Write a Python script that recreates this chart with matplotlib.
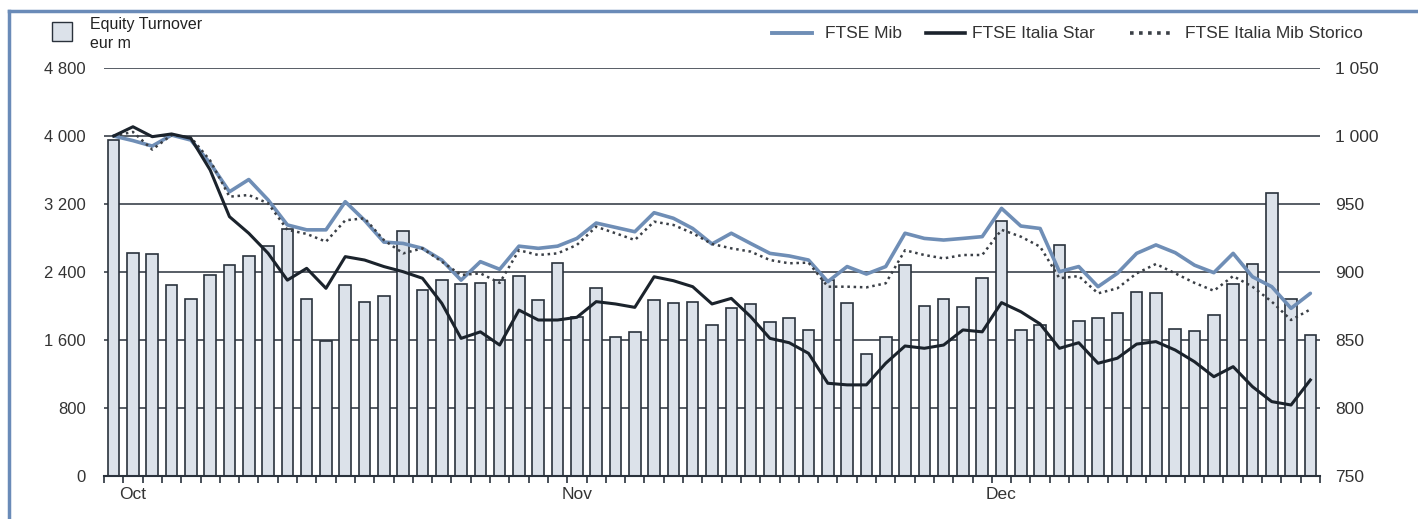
import numpy as np
import matplotlib
matplotlib.use("Agg")
import matplotlib.pyplot as plt
from matplotlib.lines import Line2D
from matplotlib.patches import Rectangle

# daily equity turnover, eur m (one bar per trading day, Oct-Dec)
turnover = [3953, 2627, 2615, 2242, 2077, 2360, 2478, 2584, 2705, 2901,
            2077, 1592, 2242, 2046, 2121, 2881, 2184, 2301, 2258, 2274,
            2301, 2348, 2066, 2509, 1870, 2211, 1635, 1693, 2070, 2035,
            2050, 1780, 1975, 2022, 1811, 1858, 1721, 2305, 2035, 1435,
            1635, 2481, 2003, 2082, 1987, 2333, 3003, 1721, 1780, 2713,
            1823, 1855, 1917, 2168, 2152, 1733, 1705, 1897, 2258, 2493,
            3328, 2077, 1658]

ftse_mib = [1000, 996.6, 992.6, 1000.7, 997, 980, 959, 968, 953, 934.6,
            931, 931, 951.7, 938, 922, 921, 917.4, 908.8, 894, 907.6,
            902, 919, 917.4, 919, 924.7, 936, 932.8, 929.6, 943.6, 939.5,
            932, 920.6, 928.5, 921, 913.7, 911.8, 908.8, 892.9, 904, 898.5,
            904, 928.5, 924.7, 923.5, 924.7, 926, 946.8, 933.8, 932, 900.2,
            904, 889.2, 899, 913.7, 919.9, 914.2, 905, 899.5, 913.7, 896.5,
            889.2, 873.3, 884.3]

ftse_star = [1000, 1006.8, 999.5, 1001.5, 998.3, 975, 940.7, 928.5, 913.8, 894,
             902.7, 888, 911.3, 908.8, 904, 900.2, 895.4, 877, 851.2, 856,
             846.3, 872, 864.7, 864.7, 866.7, 878.2, 876.5, 874, 896.5, 893.6,
             889.2, 876.5, 880.6, 867.2, 851.2, 848, 840.2, 818.2, 817, 817,
             832.9, 845.6, 843.9, 846.3, 857.4, 856, 877.5, 870.8, 861.8, 843.9,
             848, 832.9, 836.6, 847, 848.8, 842.6, 834, 823, 830.4, 815.7,
             804.7, 802.2, 820.6]

ftse_storico = [1000, 1003, 990, 1000.7, 999, 982, 955.4, 956.6, 950.5, 931,
                928, 922.3, 938, 939.5, 923.5, 913.7, 917.4, 907.6, 897.8, 899,
                892, 916, 912.5, 913.7, 919.9, 933.3, 928.5, 923.5, 937, 934.6,
                928.5, 920.6, 917.4, 915, 908.8, 906.4, 906.9, 889.2, 889.2, 888.7,
                891.7, 916, 912.5, 910, 912.5, 912.5, 931, 926, 918.6, 895.4,
                897, 884.3, 888, 899, 905.9, 899, 892, 886.2, 897, 889.2,
                878.2, 864.7, 872.5]

months = ["Oct", "Nov", "Dec"]
month_pos = [1, 24, 46]

left_ticks = [0, 800, 1600, 2400, 3200, 4000, 4800]
left_labels = ["0", "800", "1 600", "2 400", "3 200", "4 000", "4 800"]
right_ticks = [750, 800, 850, 900, 950, 1000, 1050]
right_labels = ["750", "800", "850", "900", "950", "1 000", "1 050"]

DARK = "#2a323c"
TXT = "#333333"
BLUE = "#6f8eb6"
FRAME = "#6a8bb8"
DOTS = (0, (1, 1.5))
narrow = ["Liberation Sans Narrow", "Liberation Sans", "DejaVu Sans"]
plt.rcParams["font.family"] = ["Liberation Sans", "DejaVu Sans"]

fig = plt.figure(figsize=(14.18, 5.19), dpi=100)
ax = fig.add_axes([104 / 1418, 1 - 476 / 519, 1216 / 1418, 408 / 519])

x = np.arange(len(turnover))
ax.bar(x, turnover, width=0.6, color="#dce2ea", edgecolor=DARK, linewidth=1.2, zorder=2)
ax.set_xlim(-0.5, len(turnover) - 0.5)
ax.set_ylim(0, 4800)
ax.set_yticks(left_ticks)
ax.set_yticklabels(left_labels)
ax.yaxis.grid(True, color=DARK, linewidth=1.1, zorder=0)
ax.set_axisbelow(True)
ax.tick_params(axis="y", length=0, pad=13, labelsize=12, labelcolor=TXT)
ax.set_xticks(np.arange(len(turnover) + 1) - 0.5)
ax.set_xticklabels([])
ax.tick_params(axis="x", length=5, width=1.2, color=DARK, direction="out")
for s in ["left", "right", "top"]:
    ax.spines[s].set_visible(False)
ax.spines["bottom"].set_color(DARK)
ax.spines["bottom"].set_linewidth(1.5)
ax.spines["bottom"].set_zorder(3)

for m, p in zip(months, month_pos):
    ax.text(p, -0.045, m, transform=ax.get_xaxis_transform(), ha="center", va="center",
            fontsize=12.5, color=TXT)

ax2 = ax.twinx()
ax2.plot(x, ftse_mib, color=BLUE, linewidth=2.6, solid_capstyle="round", zorder=3)
ax2.plot(x, ftse_storico, color="#3a3f46", linewidth=1.8, linestyle=DOTS, zorder=4)
ax2.plot(x, ftse_star, color="#1b232c", linewidth=2.2, zorder=5)
ax2.set_ylim(750, 1050)
ax2.set_yticks(right_ticks)
ax2.set_yticklabels(right_labels, family=narrow)
ax2.tick_params(axis="y", length=0, pad=11, labelsize=12.5, labelcolor=TXT)
for s in ["left", "right", "top", "bottom"]:
    ax2.spines[s].set_visible(False)

# frame on the left and top
fig.add_artist(Line2D([9 / 1418, 9 / 1418], [0, 1 - 11 / 519], transform=fig.transFigure,
                      color=FRAME, linewidth=2.5))
fig.add_artist(Line2D([9 / 1418, 1], [1 - 11 / 519, 1 - 11 / 519], transform=fig.transFigure,
                      color=FRAME, linewidth=2.5))

# left legend (bars)
fig.add_artist(Rectangle((52 / 1418, 1 - 41 / 519), 20 / 1418, 19 / 519, transform=fig.transFigure,
                         facecolor="#dce2ea", edgecolor=DARK, linewidth=1.0))
fig.text(90 / 1418, 1 - 25 / 519, "Equity Turnover", fontsize=11.5, color="#222222", va="center")
fig.text(90 / 1418, 1 - 43 / 519, "eur m", fontsize=11.5, color="#222222", va="center")

# right legend (lines)
ly = 1 - 33 / 519
leg = [(772, 812, 825, "FTSE Mib", dict(color=BLUE, linewidth=2.8)),
       (926, 965, 972, "FTSE Italia Star", dict(color="#1b232c", linewidth=2.6)),
       (1130, 1170, 1185, "FTSE Italia Mib Storico", dict(color="#3a3f46", linewidth=2.6, linestyle=DOTS))]
for x0, x1, xt, lab, kw in leg:
    fig.add_artist(Line2D([x0 / 1418, x1 / 1418], [ly, ly], transform=fig.transFigure, **kw))
    fig.text(xt / 1418, ly, lab, fontsize=12.5, color=TXT, va="center", family=narrow)

fig.savefig("out.png", dpi=100)
